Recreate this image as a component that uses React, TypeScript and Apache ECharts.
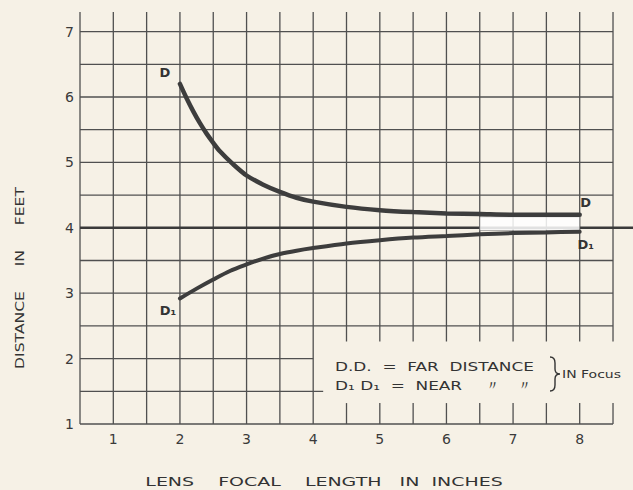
import React, { useEffect, useRef } from 'react';
import * as echarts from 'echarts';

// ---- data ----
const xTicks = [1, 2, 3, 4, 5, 6, 7, 8];
const yTicks = [1, 2, 3, 4, 5, 6, 7];
const xGridValues = [0.5, 1, 1.5, 2, 2.5, 3, 3.5, 4, 4.5, 5, 5.5, 6, 6.5, 7, 7.5, 8, 8.5];
const yGridValues = [1, 1.5, 2, 2.5, 3, 3.5, 4.5, 5, 5.5, 6, 6.5, 7];
const focusDistance = 4;

const farX = [2, 2.1, 2.2, 2.3, 2.4, 2.5, 2.6, 2.8, 3, 3.25, 3.5, 3.75, 4, 4.5, 5, 5.5, 6, 6.5, 7, 7.5, 8];
const farY = [6.2, 5.98, 5.78, 5.6, 5.44, 5.3, 5.17, 4.97, 4.8, 4.66, 4.55, 4.46, 4.4, 4.32, 4.27, 4.24, 4.22, 4.21, 4.2, 4.2, 4.2];

const nearX = [2, 2.25, 2.5, 2.75, 3, 3.25, 3.5, 3.75, 4, 4.5, 5, 5.5, 6, 6.5, 7, 7.5, 8];
const nearY = [2.92, 3.07, 3.21, 3.34, 3.44, 3.53, 3.6, 3.65, 3.69, 3.76, 3.81, 3.85, 3.875, 3.9, 3.92, 3.93, 3.94];

// light band between the curves near the right end
const bandX = [6.5, 8];
const bandY = [3.96, 4.17];

const xTitle = 'LENS    FOCAL    LENGTH   IN  INCHES';
const yTitle = 'DISTANCE     IN     FEET';
const legendFar = 'D.D.  =  FAR  DISTANCE';
const legendNear = 'D₁ D₁  =  NEAR    〃   〃';
const focusNote = 'IN Focus';

const X_MIN = 0.5, X_MAX = 8.8, Y_MIN = 1, Y_MAX = 7.3;
const FONT = 'DejaVu Sans';
const INK = '#333';
const GRID = '#505050';

echarts.graphic.registerShape(
  'brace',
  echarts.graphic.extendPath(
    'M0 0 C4 0 5 2 5 6 L5 12 C5 15 6 17 10 17 C6 17 5 19 5 22 L5 28 C5 32 4 34 0 34',
    {}
  )
);

function gridSegments(): number[][] {
  const segs: number[][] = [];
  const breakLow = 1.32, breakHigh = 2.26;
  xGridValues.forEach((x) => {
    if (x > 4) {
      segs.push([x, Y_MIN, x, breakLow]);
      segs.push([x, breakHigh, x, Y_MAX]);
    } else {
      segs.push([x, Y_MIN, x, Y_MAX]);
    }
  });
  yGridValues.forEach((y) => {
    if (y === 2) segs.push([0.5, y, 4, y]);
    else if (y === 1.5) segs.push([0.5, y, 4.15, y]);
    else segs.push([0.5, y, 8.5, y]);
  });
  return segs;
}

function labelPoint(coord: number[], text: string, offset: number[]) {
  return {
    coord,
    symbol: 'rect',
    symbolSize: 1,
    itemStyle: { color: 'rgba(0,0,0,0)' },
    label: {
      show: true,
      formatter: text,
      offset,
      color: INK,
      fontFamily: FONT,
      fontSize: 13,
      fontWeight: 'bold',
    },
  };
}

export default function App() {
  const ref = useRef<HTMLDivElement>(null);
  useEffect(() => {
    if (!ref.current) return;
    const chart = echarts.init(ref.current, undefined, { renderer: 'svg' });
    const far = farX.map((x, i) => [x, farY[i]]);
    const near = nearX.map((x, i) => [x, nearY[i]]);
    const option: any = {
      animation: false,
      backgroundColor: '#f6f1e6',
      grid: { left: 80, right: 0, top: 12, bottom: 66 },
      xAxis: {
        type: 'value',
        min: X_MIN,
        max: X_MAX,
        axisLine: { show: false },
        axisTick: { show: false },
        splitLine: { show: false },
        axisLabel: {
          customValues: xTicks,
          color: '#3a3a3a',
          fontFamily: FONT,
          fontSize: 14,
          margin: 8,
        },
      },
      yAxis: {
        type: 'value',
        min: Y_MIN,
        max: Y_MAX,
        axisLine: { show: false },
        axisTick: { show: false },
        splitLine: { show: false },
        axisLabel: {
          customValues: yTicks,
          color: '#3a3a3a',
          fontFamily: FONT,
          fontSize: 14,
          margin: 6,
        },
      },
      series: [
        {
          type: 'custom',
          z: 0,
          silent: true,
          clip: false,
          encode: { x: [0, 2], y: [1, 3] },
          data: gridSegments(),
          renderItem: (_p: any, api: any) => {
            const a = api.coord([api.value(0), api.value(1)]);
            const b = api.coord([api.value(2), api.value(3)]);
            return {
              type: 'line',
              shape: { x1: a[0], y1: a[1], x2: b[0], y2: b[1] },
              style: { stroke: GRID, lineWidth: 1.3 },
            };
          },
        },
        {
          type: 'line',
          z: 1,
          silent: true,
          symbol: 'none',
          data: [[X_MIN, focusDistance], [X_MAX, focusDistance]],
          lineStyle: { color: '#3a3a3a', width: 2.4 },
        },
        {
          type: 'custom',
          z: 2,
          silent: true,
          encode: { x: [0, 2], y: [1, 3] },
          data: [[bandX[0], bandY[1], bandX[1], bandY[0]]],
          renderItem: (_p: any, api: any) => {
            const a = api.coord([api.value(0), api.value(1)]);
            const b = api.coord([api.value(2), api.value(3)]);
            return {
              type: 'rect',
              shape: { x: a[0], y: a[1], width: b[0] - a[0], height: b[1] - a[1] },
              style: {
                fill: 'rgba(255,255,255,0.85)',
                stroke: 'rgba(110,110,110,0.7)',
                lineWidth: 0.8,
              },
            };
          },
        },
        {
          name: 'Far distance',
          type: 'line',
          z: 3,
          symbol: 'none',
          smooth: 0.3,
          data: far,
          lineStyle: { color: '#3d3d3d', width: 4.5, cap: 'round' },
          markPoint: {
            silent: true,
            data: [
              labelPoint([2, 6.2], 'D', [-15, -11]),
              labelPoint([8, 4.2], 'D', [6, -12]),
            ],
          },
        },
        {
          name: 'Near distance',
          type: 'line',
          z: 3,
          symbol: 'none',
          smooth: 0.3,
          data: near,
          lineStyle: { color: '#3d3d3d', width: 4, cap: 'round' },
          markPoint: {
            silent: true,
            data: [
              labelPoint([8, 3.94], 'D₁', [6, 13]),
              labelPoint([2, 2.92], 'D₁', [-12, 12]),
            ],
          },
        },
      ],
      graphic: [
        {
          type: 'text',
          x: 324,
          y: 482,
          scaleX: 1.46,
          style: {
            text: xTitle,
            fill: INK,
            font: `13px "${FONT}"`,
            textAlign: 'center',
            textVerticalAlign: 'middle',
          },
        },
        {
          type: 'text',
          x: 19,
          y: 278,
          rotation: Math.PI / 2,
          scaleX: 1.2,
          style: {
            text: yTitle,
            fill: INK,
            font: `13px "${FONT}"`,
            textAlign: 'center',
            textVerticalAlign: 'middle',
          },
        },
        {
          type: 'text',
          x: 335,
          y: 367,
          scaleX: 1.3,
          style: {
            text: legendFar,
            fill: INK,
            font: `13px "${FONT}"`,
            textAlign: 'left',
            textVerticalAlign: 'middle',
          },
        },
        {
          type: 'text',
          x: 335,
          y: 386,
          scaleX: 1.3,
          style: {
            text: legendNear,
            fill: INK,
            font: `13px "${FONT}"`,
            textAlign: 'left',
            textVerticalAlign: 'middle',
          },
        },
        {
          type: 'brace',
          x: 550,
          y: 357,
          style: { stroke: INK, fill: 'none', lineWidth: 1.4 },
        },
        {
          type: 'text',
          x: 562,
          y: 375,
          scaleX: 1.4,
          style: {
            text: focusNote,
            fill: INK,
            font: `10px "${FONT}"`,
            textAlign: 'left',
            textVerticalAlign: 'middle',
          },
        },
      ],
    };
    chart.setOption(option);
    return () => chart.dispose();
  }, []);
  return (
    <div
      ref={ref}
      style={{ position: 'fixed', left: 0, top: 0, width: 633, height: 490, background: '#f6f1e6' }}
    />
  );
}
